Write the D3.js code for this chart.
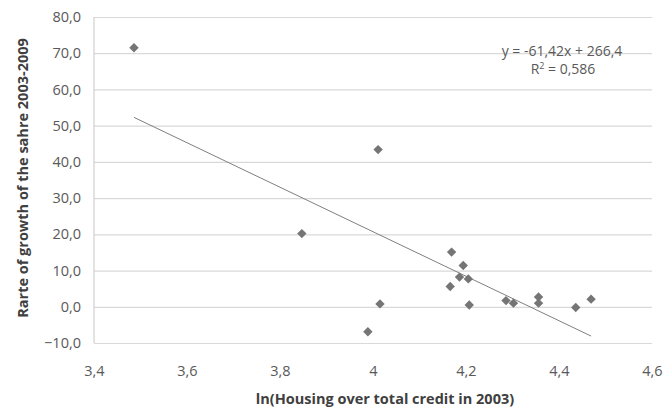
<!DOCTYPE html>
<html>
<head>
<meta charset="utf-8">
<script src="https://cdn.jsdelivr.net/npm/d3@7"></script>
<style>
  body { margin: 0; background: #fff; }
  text { font-family: 'Open Sans', 'Noto Sans', sans-serif; fill: #595959; }
  .axis-label { font-weight: bold; font-size: 14.5px; fill: #404040; }
  .tick-label { font-size: 14.5px; }
  .eq { font-size: 14px; }
</style>
</head>
<body>
<svg width="664" height="409"></svg>
<script>
const xAxisLabelText = 'ln(Housing over total credit in 2003)';
const yAxisLabelText = 'Rarte of growth of the sahre 2003-2009';

// points
const xValues = [3.486, 3.847, 4.011, 3.989, 4.015, 4.169, 4.194, 4.186, 4.205, 4.166,
                 4.207, 4.286, 4.302, 4.356, 4.356, 4.436, 4.469];
const yValues = [71.5, 20.2, 43.4, -6.9, 0.8, 15.1, 11.4, 8.2, 7.7, 5.6,
                 0.5, 1.7, 1.0, 2.7, 1.0, -0.2, 2.1];

const xTicks = [3.4, 3.6, 3.8, 4, 4.2, 4.4, 4.6];
const yTicks = [-10, 0, 10, 20, 30, 40, 50, 60, 70, 80];

const slope = -61.42;
const intercept = 266.4;
const equationText = 'y = -61,42x + 266,4';
const r2Text = '0,586';

const svg = d3.select('svg');
const width = +svg.attr('width');
const height = +svg.attr('height');

const margin = { top: 17, right: 12, bottom: 66, left: 94 };
const innerWidth = width - margin.left - margin.right;
const innerHeight = height - margin.top - margin.bottom;

const data = xValues.map((x, i) => ({ x, y: yValues[i] }));

const xScale = d3.scaleLinear()
  .domain([3.4, 4.6])
  .range([0, innerWidth]);

const yScale = d3.scaleLinear()
  .domain([-10, 80])
  .range([innerHeight, 0]);

const g = svg.append('g')
  .attr('transform', `translate(${margin.left},${margin.top})`);

const comma = v => v.toString().replace('.', ',');

// horizontal grid + y labels
const yAxis = d3.axisLeft(yScale)
  .tickValues(yTicks)
  .tickSize(-innerWidth)
  .tickPadding(13)
  .tickFormat(d => d3.format('.1f')(d).replace('.', ','));

const yAxisG = g.append('g').call(yAxis);
yAxisG.select('.domain').remove();
yAxisG.selectAll('.tick line').attr('stroke', '#d9d9d9').attr('stroke-width', 1.2);
yAxisG.selectAll('.tick text').attr('class', 'tick-label').attr('fill', '#595959');

// x labels
const xAxis = d3.axisBottom(xScale)
  .tickValues(xTicks)
  .tickSize(0)
  .tickPadding(23)
  .tickFormat(comma);

const xAxisG = g.append('g')
  .attr('transform', `translate(0,${innerHeight})`)
  .call(xAxis);
xAxisG.select('.domain').remove();
xAxisG.selectAll('.tick text').attr('class', 'tick-label').attr('fill', '#595959');

// left axis line
g.append('line')
  .attr('x1', 0).attr('x2', 0)
  .attr('y1', 0).attr('y2', innerHeight)
  .attr('stroke', '#d0d0d0')
  .attr('stroke-width', 1.2);

// axis titles
svg.append('text')
  .attr('class', 'axis-label')
  .attr('x', 385)
  .attr('y', 404)
  .attr('text-anchor', 'middle')
  .text(xAxisLabelText);

svg.append('text')
  .attr('class', 'axis-label')
  .attr('transform', `translate(28,${178}) rotate(-90)`)
  .attr('text-anchor', 'middle')
  .text(yAxisLabelText);

// trend line over data range
const [xMin, xMax] = d3.extent(xValues);
g.append('line')
  .attr('x1', xScale(xMin)).attr('y1', yScale(slope * xMin + intercept))
  .attr('x2', xScale(xMax)).attr('y2', yScale(slope * xMax + intercept))
  .attr('stroke', '#7f7f7f')
  .attr('stroke-width', 1);

// diamond markers
g.selectAll('path.pt').data(data)
  .enter().append('path')
    .attr('class', 'pt')
    .attr('d', d3.symbol(d3.symbolSquare, 44))
    .attr('transform', d => `translate(${xScale(d.x)},${yScale(d.y)}) rotate(45)`)
    .attr('fill', '#757575');

// equation
const eq = svg.append('text')
  .attr('class', 'eq')
  .attr('x', 562)
  .attr('y', 56)
  .attr('text-anchor', 'middle');
eq.append('tspan').text(equationText);
const r2 = svg.append('text')
  .attr('class', 'eq')
  .attr('x', 563)
  .attr('y', 74)
  .attr('text-anchor', 'middle');
r2.append('tspan').text('R');
r2.append('tspan').attr('dy', -5).attr('font-size', '9px').text('2');
r2.append('tspan').attr('dy', 5).text(' = ' + r2Text);
</script>
</body>
</html>
